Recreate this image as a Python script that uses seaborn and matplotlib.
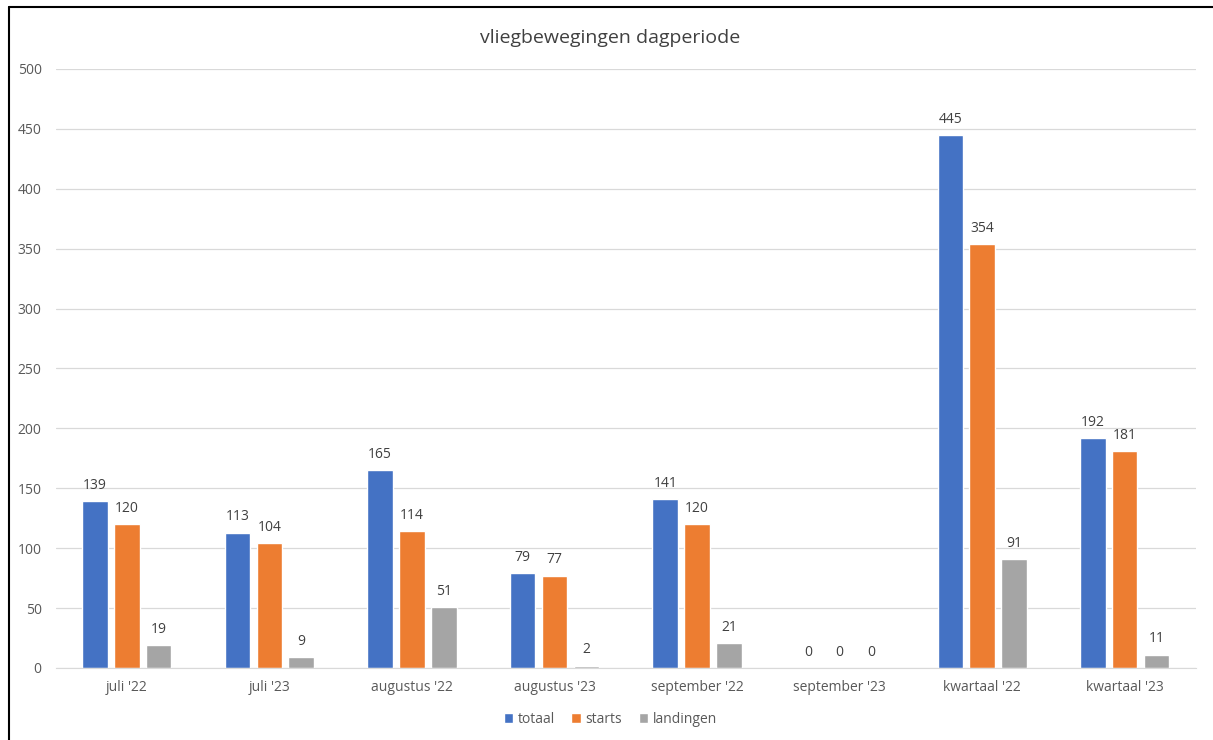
import pandas as pd
import matplotlib.pyplot as plt
import matplotlib.lines as mlines
import seaborn as sns

# Chart data
categories = ["juli '22", "juli '23", "augustus '22", "augustus '23",
              "september '22", "september '23", "kwartaal '22", "kwartaal '23"]
totaal = [139, 113, 165, 79, 141, 0, 445, 192]
starts = [120, 104, 114, 77, 120, 0, 354, 181]
landingen = [19, 9, 51, 2, 21, 0, 91, 11]
series_names = ["totaal", "starts", "landingen"]
colors = ["#4472C4", "#ED7D31", "#A5A5A5"]

df = pd.DataFrame({"categorie": categories, "totaal": totaal,
                   "starts": starts, "landingen": landingen})
long_df = df.melt(id_vars="categorie", var_name="serie", value_name="aantal")

sns.set_style("white")
plt.rcParams["font.family"] = ["Open Sans", "DejaVu Sans"]

fig = plt.figure(figsize=(12.13, 7.4), dpi=100)
ax = fig.add_axes([0.0458, 0.0973, 0.9402, 0.8095])

sns.barplot(data=long_df, x="categorie", y="aantal", hue="serie",
            hue_order=series_names, palette=colors, order=categories,
            width=0.67, gap=0.2, saturation=1, ax=ax, legend=True)

for c in ax.containers:
    ax.bar_label(c, labels=[f"{v:.0f}" for v in c.datavalues],
                 padding=6, fontsize=10, color="#404040")

ax.set_ylim(0, 500)
ax.set_yticks(range(0, 501, 50))
ax.grid(axis="y", color="#D9D9D9", linewidth=0.9)
ax.set_axisbelow(True)
for s in ["top", "right", "left"]:
    ax.spines[s].set_visible(False)
ax.spines["bottom"].set_color("#D9D9D9")
ax.tick_params(axis="both", length=0, labelsize=10, labelcolor="#595959")
ax.tick_params(axis="x", pad=9)
ax.tick_params(axis="y", pad=10)
ax.set_xlabel("")
ax.set_ylabel("")

fig.text(0.503, 0.948, "vliegbewegingen dagperiode", ha="center", va="center",
         fontsize=14, color="#404040")

handles, labels = ax.get_legend_handles_labels()
ax.legend(handles, labels, loc="center", bbox_to_anchor=(0.503, 0.028),
          bbox_transform=fig.transFigure, ncol=3, frameon=False,
          fontsize=10, labelcolor="#595959", handlelength=0.7, handleheight=0.7,
          handletextpad=0.3, columnspacing=1.2)

# screenshot border on left and top
fig.add_artist(mlines.Line2D([0.0075, 0.0075], [0, 0.99], color="black", linewidth=1.5))
fig.add_artist(mlines.Line2D([0.0075, 1], [0.99, 0.99], color="black", linewidth=1.5))

fig.savefig("out.png", dpi=100, facecolor="white")
